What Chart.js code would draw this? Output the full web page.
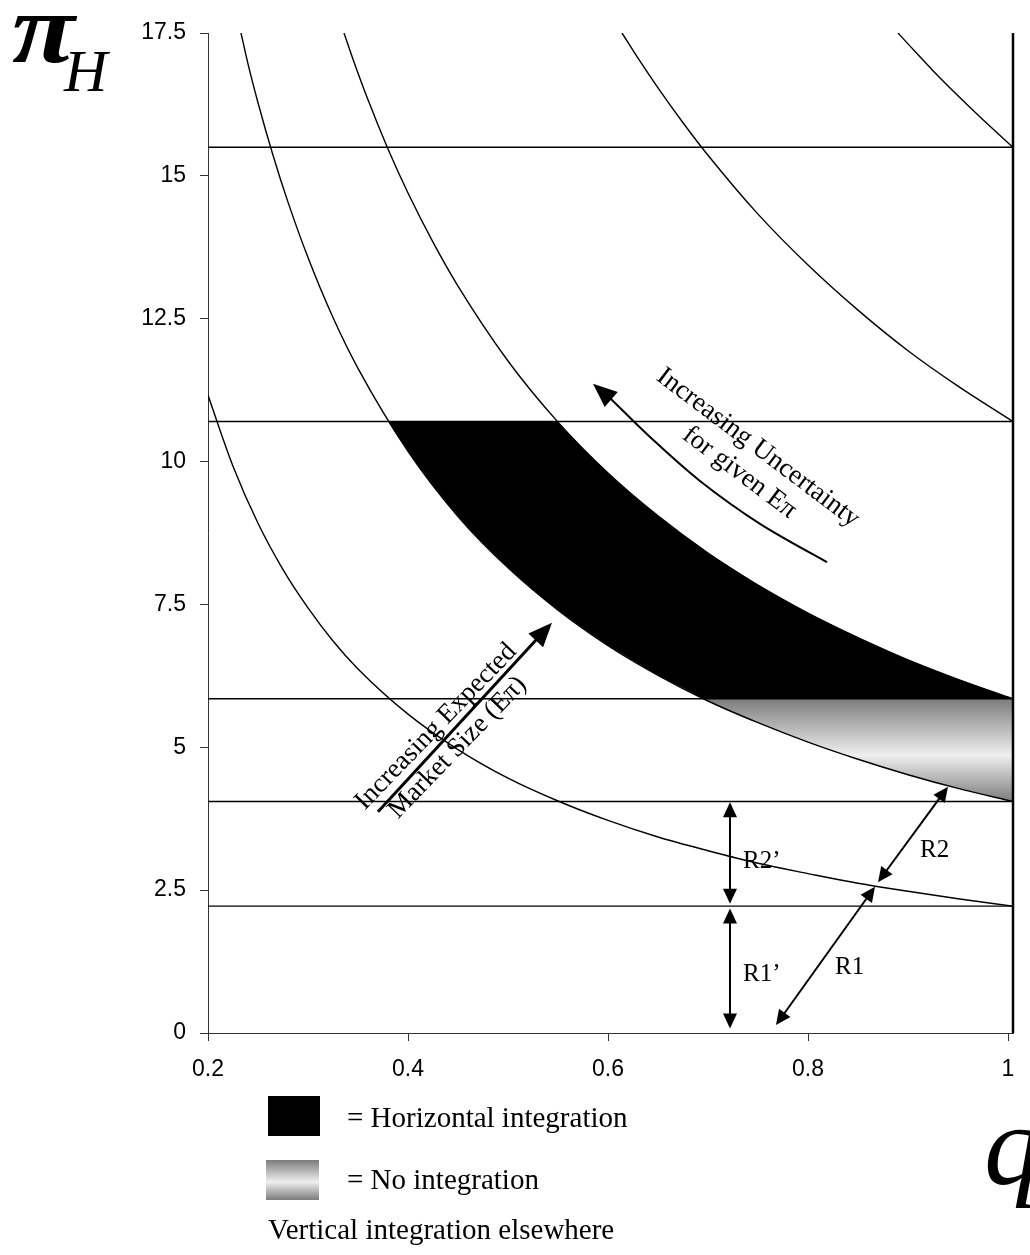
<!DOCTYPE html>
<html>
<head>
<meta charset="utf-8">
<script src="https://cdn.jsdelivr.net/npm/chart.js@4.4.1/dist/chart.umd.min.js"></script>
<style>
  body { margin: 0; background: #fff; }
</style>
</head>
<body>
<canvas id="chart" width="1030" height="1255"></canvas>
<script>
// axis ranges and ticks
var q_min = 0.2, q_max = 1.005;
var q_ticks = [0.2, 0.4, 0.6, 0.8, 1];
var pi_min = 0, pi_max = 17.5, pi_step = 2.5;

// horizontal threshold lines
var levels = [2.22, 4.05, 5.85, 10.7, 15.5];

// iso-profit curves
var curve1_q  = [0.2, 0.225, 0.25, 0.275, 0.3, 0.325, 0.35, 0.4, 0.45, 0.5, 0.55, 0.6, 0.65, 0.7, 0.75, 0.8, 0.85, 0.9, 0.95, 1.005];
var curve1_pi = [11.16, 9.92, 8.92, 8.11, 7.44, 6.86, 6.37, 5.58, 4.96, 4.46, 4.06, 3.72, 3.43, 3.19, 2.97, 2.79, 2.62, 2.48, 2.35, 2.22];

var curve2_q  = [0.233, 0.24, 0.25, 0.265, 0.28, 0.3, 0.325, 0.35, 0.4, 0.45, 0.5, 0.55, 0.6, 0.65, 0.7, 0.75, 0.8, 0.85, 0.9, 0.95, 1.005];
var curve2_pi = [17.5, 16.96, 16.28, 15.36, 14.54, 13.57, 12.52, 11.63, 10.18, 9.04, 8.14, 7.4, 6.78, 6.26, 5.81, 5.43, 5.09, 4.79, 4.52, 4.28, 4.05];

var curve3_q  = [0.336, 0.345, 0.36, 0.38, 0.4, 0.425, 0.45, 0.5, 0.55, 0.6, 0.65, 0.7, 0.75, 0.8, 0.85, 0.9, 0.95, 1.005];
var curve3_pi = [17.5, 17.04, 16.33, 15.47, 14.7, 13.84, 13.07, 11.76, 10.69, 9.8, 9.05, 8.4, 7.84, 7.35, 6.92, 6.53, 6.19, 5.85];

var curve4_q  = [0.614, 0.63, 0.65, 0.675, 0.7, 0.75, 0.8, 0.85, 0.9, 0.95, 1.005];
var curve4_pi = [17.5, 17.06, 16.54, 15.93, 15.36, 14.33, 13.44, 12.65, 11.94, 11.32, 10.7];

var curve5_q  = [0.89, 0.9, 0.925, 0.95, 0.975, 1.005];
var curve5_pi = [17.5, 17.31, 16.84, 16.4, 15.98, 15.5];

// horizontal integration region (black)
var black_top_q  = [0.38, 0.5495, 0.56, 0.575, 0.59, 0.61, 0.63, 0.66, 0.7, 0.75, 0.8, 0.85, 0.9, 0.95, 1.005];
var black_top_pi = [10.7, 10.7, 10.5, 10.23, 9.97, 9.64, 9.33, 8.91, 8.4, 7.84, 7.35, 6.92, 6.53, 6.19, 5.85];
var black_bot_q  = [0.38, 0.39, 0.4, 0.415, 0.43, 0.45, 0.47, 0.5, 0.53, 0.56, 0.6, 0.65, 0.696, 1.005];
var black_bot_pi = [10.7, 10.44, 10.18, 9.81, 9.47, 9.04, 8.66, 8.14, 7.68, 7.27, 6.78, 6.26, 5.85, 5.85];

// no integration region (grey gradient)
var grey_top_q  = [0.696, 1.005];
var grey_top_pi = [5.85, 5.85];
var grey_bot_q  = [0.696, 0.72, 0.75, 0.8, 0.85, 0.9, 0.95, 1.005];
var grey_bot_pi = [5.85, 5.65, 5.43, 5.09, 4.79, 4.52, 4.28, 4.05];

// annotation arrows, in data units
var arrows = [
  { from: [0.37, 3.87],  to: [0.544, 7.18], width: 3, head: 24, headW: 20, both: false },
  { from: [0.722, 4.04], to: [0.722, 2.26], width: 2, head: 15, headW: 14, both: true },
  { from: [0.722, 2.18], to: [0.722, 0.08], width: 2, head: 15, headW: 14, both: true },
  { from: [0.768, 0.14], to: [0.867, 2.56], width: 2, head: 15, headW: 14, both: true },
  { from: [0.87, 2.64],  to: [0.94, 4.31],  width: 2, head: 15, headW: 14, both: true }
];
var bend_q  = [0.819, 0.752, 0.692, 0.642, 0.605, 0.585];
var bend_pi = [8.24, 8.91, 9.66, 10.43, 11.06, 11.36];

var r_labels = [
  { text: "R2\u2019", q: 0.735, pi: 3.01 },
  { text: "R1\u2019", q: 0.735, pi: 1.02 },
  { text: "R1",       q: 0.827, pi: 1.14 },
  { text: "R2",       q: 0.912, pi: 3.2 }
];
var slanted = [
  { lines: ["Increasing Expected", "Market Size (E\u03c0)"], q: 0.428, pi: 5.36, angle: -46, gap: 30 },
  { lines: ["Increasing Uncertainty", "for given E\u03c0"], q: 0.75, pi: 10.24, angle: 37, gap: 31 }
];

var SANS = "'Liberation Sans', Arial, sans-serif";
var SERIF = "'Liberation Serif', 'Times New Roman', serif";

function pts(qs, ps) {
  return qs.map(function(q, i) { return { x: q, y: ps[i] }; });
}

function greyGradient(ctx, top, bottom) {
  var g = ctx.createLinearGradient(0, top, 0, bottom);
  g.addColorStop(0, "#7c7c7c");
  g.addColorStop(0.55, "#efefef");
  g.addColorStop(1, "#7c7c7c");
  return g;
}

function lineSet(data, w) {
  return {
    data: data, showLine: true, pointRadius: 0, borderColor: "#000",
    borderWidth: w, fill: false, cubicInterpolationMode: "monotone", order: 0
  };
}

function areaSet(data, fill, bg) {
  return {
    data: data, showLine: true, pointRadius: 0, tension: 0,
    borderColor: "rgba(0,0,0,0)", borderWidth: 0, backgroundColor: bg, fill: fill, order: 10
  };
}

var datasets = [];
[[curve1_q, curve1_pi], [curve2_q, curve2_pi], [curve3_q, curve3_pi],
 [curve4_q, curve4_pi], [curve5_q, curve5_pi]].forEach(function(c) {
  datasets.push(lineSet(pts(c[0], c[1]), 1.4));
});
levels.forEach(function(v) {
  datasets.push(lineSet([{ x: q_min, y: v }, { x: q_max, y: v }], 1.4));
});
var edge = lineSet([{ x: q_max, y: pi_min }, { x: q_max, y: pi_max }], 2.5);
edge.clip = false;
datasets.push(edge);

// filled regions: top line fills down to the next dataset
datasets.push(areaSet(pts(black_top_q, black_top_pi), "+1", "#000"));
datasets.push(areaSet(pts(black_bot_q, black_bot_pi), false, "#000"));
datasets.push(areaSet(pts(grey_top_q, grey_top_pi), "+1", function(c) {
  var ch = c.chart;
  if (!ch.chartArea) return "#bbb";
  var y = ch.scales.y;
  return greyGradient(ch.ctx, y.getPixelForValue(5.85), y.getPixelForValue(4.05));
}));
datasets.push(areaSet(pts(grey_bot_q, grey_bot_pi), false, "#bbb"));

function arrowHead(ctx, tx, ty, ux, uy, len, w) {
  ctx.beginPath();
  ctx.moveTo(tx, ty);
  ctx.lineTo(tx - ux * len - uy * w / 2, ty - uy * len + ux * w / 2);
  ctx.lineTo(tx - ux * len + uy * w / 2, ty - uy * len - ux * w / 2);
  ctx.closePath();
  ctx.fill();
}

var annotations = {
  id: "annotations",
  afterDraw: function(chart) {
    var ctx = chart.ctx, xs = chart.scales.x, ys = chart.scales.y;
    var area = chart.chartArea;
    function px(q) { return xs.getPixelForValue(q); }
    function py(v) { return ys.getPixelForValue(v); }
    ctx.save();
    ctx.fillStyle = "#000";
    ctx.strokeStyle = "#000";

    // straight arrows
    arrows.forEach(function(a) {
      var x1 = px(a.from[0]), y1 = py(a.from[1]), x2 = px(a.to[0]), y2 = py(a.to[1]);
      var d = Math.hypot(x2 - x1, y2 - y1), ux = (x2 - x1) / d, uy = (y2 - y1) / d;
      var s = a.both ? a.head * 0.8 : 0;
      ctx.lineWidth = a.width;
      ctx.beginPath();
      ctx.moveTo(x1 + ux * s, y1 + uy * s);
      ctx.lineTo(x2 - ux * a.head * 0.8, y2 - uy * a.head * 0.8);
      ctx.stroke();
      arrowHead(ctx, x2, y2, ux, uy, a.head, a.headW);
      if (a.both) arrowHead(ctx, x1, y1, -ux, -uy, a.head, a.headW);
    });

    // curved arrow (catmull-rom through the points, head on the last one)
    var bp = bend_q.map(function(q, i) { return [px(q), py(bend_pi[i])]; });
    var n = bp.length;
    var tip = bp[n - 1], prev = bp[n - 2];
    var dd = Math.hypot(tip[0] - prev[0], tip[1] - prev[1]);
    var bx = (tip[0] - prev[0]) / dd, by = (tip[1] - prev[1]) / dd;
    var path = bp.slice(0, n - 1);
    path.push([tip[0] - bx * 18, tip[1] - by * 18]);
    ctx.lineWidth = 2;
    ctx.beginPath();
    ctx.moveTo(path[0][0], path[0][1]);
    for (var i = 0; i < path.length - 1; i++) {
      var p0 = path[Math.max(i - 1, 0)], p1 = path[i], p2 = path[i + 1], p3 = path[Math.min(i + 2, path.length - 1)];
      ctx.bezierCurveTo(p1[0] + (p2[0] - p0[0]) / 6, p1[1] + (p2[1] - p0[1]) / 6,
                        p2[0] - (p3[0] - p1[0]) / 6, p2[1] - (p3[1] - p1[1]) / 6, p2[0], p2[1]);
    }
    ctx.stroke();
    arrowHead(ctx, tip[0], tip[1], bx, by, 24, 20);

    // R labels
    ctx.font = "25px " + SERIF;
    ctx.textAlign = "left";
    ctx.textBaseline = "middle";
    r_labels.forEach(function(r) { ctx.fillText(r.text, px(r.q), py(r.pi)); });

    // slanted captions
    ctx.font = "27px " + SERIF;
    ctx.textAlign = "center";
    slanted.forEach(function(t) {
      ctx.save();
      ctx.translate(px(t.q), py(t.pi));
      ctx.rotate(t.angle * Math.PI / 180);
      t.lines.forEach(function(l, k) { ctx.fillText(l, 0, k * t.gap); });
      ctx.restore();
    });

    // axis symbols
    ctx.textAlign = "left";
    ctx.textBaseline = "alphabetic";
    ctx.save();
    ctx.translate(12, 62);
    ctx.scale(1.15, 1);
    ctx.font = "italic bold 100px " + SERIF;
    ctx.fillText("\u03c0", 0, 0);
    ctx.restore();
    ctx.font = "italic 60px " + SERIF;
    ctx.fillText("H", 64, 91);
    ctx.font = "italic 115px " + SERIF;
    ctx.fillText("q", 984, area.bottom + 151);

    // key
    var kx = 268, ky = area.bottom + 63;
    ctx.fillRect(kx, ky, 52, 40);
    ctx.fillStyle = greyGradient(ctx, ky + 64, ky + 104);
    ctx.fillRect(kx - 2, ky + 64, 53, 40);
    ctx.fillStyle = "#000";
    ctx.font = "29px " + SERIF;
    ctx.fillText("= Horizontal integration", kx + 79, ky + 31);
    ctx.fillText("= No integration", kx + 79, ky + 93);
    ctx.fillText("Vertical integration elsewhere", kx, ky + 143);
    ctx.restore();
  }
};

var tickFont = { family: SANS, size: 23 };

new Chart(document.getElementById("chart"), {
  type: "scatter",
  data: { datasets: datasets },
  options: {
    responsive: false,
    animation: false,
    layout: { padding: { left: 0, top: 33, right: 17, bottom: 0 } },
    plugins: { legend: { display: false }, tooltip: { enabled: false } },
    elements: { point: { radius: 0 } },
    scales: {
      x: {
        type: "linear", min: q_min, max: q_max,
        afterBuildTicks: function(s) { s.ticks = q_ticks.map(function(v) { return { value: v }; }); },
        afterFit: function(s) { s.height = 222; },
        grid: { drawOnChartArea: false, drawTicks: true, tickLength: 8, color: "#333" },
        border: { display: true, color: "#333", width: 1 },
        ticks: { color: "#000", font: tickFont, padding: 15, maxRotation: 0,
                 callback: function(v) { return String(v); } }
      },
      y: {
        type: "linear", min: pi_min, max: pi_max,
        afterFit: function(s) { s.width = 208; },
        grid: { drawOnChartArea: false, drawTicks: true, tickLength: 8, color: "#333" },
        border: { display: true, color: "#333", width: 1 },
        ticks: { stepSize: pi_step, color: "#000", font: tickFont, padding: 14 }
      }
    }
  },
  plugins: [annotations]
});
</script>
</body>
</html>
